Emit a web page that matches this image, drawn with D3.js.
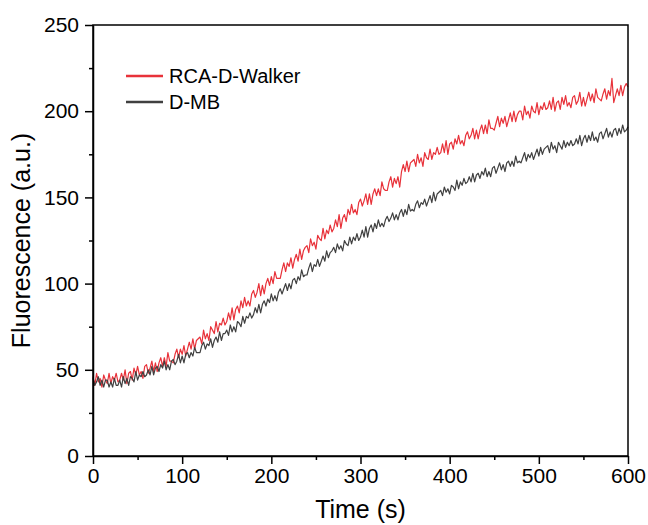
<!DOCTYPE html>
<html lang="en">
<head>
<meta charset="utf-8">
<script src="https://d3js.org/d3.v7.min.js"></script>
<style>
body { margin: 0; background: #fff; font-family: Arial, "Liberation Sans", sans-serif; }
.axis path, .axis line { stroke: #000; stroke-width: 1.5; fill: none; }
.axis text { font-size: 21px; fill: #000; font-family: Arial, "Liberation Sans", sans-serif; }
.series { fill: none; stroke-width: 1.2; stroke-linejoin: round; }
</style>
</head>
<body>
<svg id="chart" width="648" height="525"></svg>
<script>
// time axis: one reading every 2 s, 0..600 (15 readings per row = 30 s)
var tStep = 2;
var seriesNames = ["RCA-D-Walker", "D-MB"];
var seriesColors = ["#e8323a", "#404040"];

var walker = [
  46,41,48,43,45,40,47,44,42,48,42,46,44,48,43,
  44,48,44,50,42,48,49,44,51,47,52,47,49,45,52,
  53,48,51,55,49,54,49,54,57,52,57,52,60,55,55,
  54,59,62,57,62,59,64,58,62,66,62,68,62,67,68,
  69,65,73,68,71,67,75,73,71,78,72,77,76,80,76,
  78,83,79,86,79,85,87,83,90,86,92,87,90,87,94,
  96,92,95,100,93,99,94,100,103,99,104,100,107,103,103,
  103,108,112,107,112,110,115,109,114,117,113,120,114,119,121,
  122,118,126,122,124,120,128,126,125,132,126,131,129,134,130,
  132,137,133,140,132,138,140,136,143,140,146,141,143,140,147,
  149,145,148,152,146,152,146,152,155,151,155,151,159,155,154,
  154,159,162,156,161,158,162,156,165,169,165,171,165,170,171,
  172,168,175,170,173,168,176,173,172,178,172,176,175,179,175,
  176,181,176,183,175,181,182,178,184,181,186,181,183,180,186,
  188,184,186,190,184,189,184,189,192,187,192,187,195,190,190,
  189,193,197,191,196,193,197,191,195,199,194,200,194,198,200,
  200,195,203,198,200,196,203,200,199,205,198,203,201,205,201,
  202,206,201,208,200,205,206,201,208,204,209,203,205,202,208,
  209,204,206,211,203,208,203,207,211,206,210,205,213,208,207,
  206,210,213,207,212,209,219,205,209,213,209,215,209,214,216,
  214
];

var dmb = [
  45,41,43,46,41,44,40,44,44,40,43,40,45,41,41,
  44,40,46,42,45,41,46,45,43,49,44,47,46,49,46,
  47,50,47,52,47,51,52,49,53,51,55,50,53,50,55,
  56,53,55,59,54,58,54,59,60,57,60,58,63,60,60,
  60,64,66,62,65,64,68,63,67,69,66,72,67,71,71,
  73,70,76,72,75,72,78,77,75,81,77,81,80,83,80,
  82,86,83,88,83,88,90,87,91,89,94,90,93,90,95,
  97,94,97,100,96,100,97,102,103,100,104,102,108,104,105,
  105,109,112,107,111,110,114,110,113,116,113,119,115,118,119,
  121,118,123,120,122,119,125,123,122,127,123,127,125,129,125,
  127,131,127,133,127,132,134,130,135,132,137,133,135,133,137,
  139,136,138,141,137,140,137,141,143,139,143,140,146,142,143,
  142,146,148,144,147,146,149,145,148,151,147,153,148,152,153,
  154,151,156,153,155,152,157,156,154,160,155,159,157,161,158,
  159,162,159,164,159,163,164,161,165,163,167,162,165,162,167,
  168,164,167,170,166,169,165,170,171,168,171,168,174,170,171,
  170,173,176,171,175,173,176,172,175,178,174,179,175,178,179,
  180,176,182,178,180,176,182,180,178,183,179,182,180,183,180,
  181,184,181,186,180,184,186,182,186,183,188,183,185,182,187,
  188,184,187,190,185,188,185,189,190,186,190,187,192,188,189,
  191
];

var xTicks = [0, 100, 200, 300, 400, 500, 600];
var yTicks = [0, 50, 100, 150, 200, 250];
var xMinor = [50, 150, 250, 350, 450, 550];
var yMinor = [25, 75, 125, 175, 225];

// plot box
var margin = {top: 25, right: 20, bottom: 69, left: 93},
    width = 648 - margin.left - margin.right,
    height = 525 - margin.top - margin.bottom;

var svg = d3.select("#chart");
var g = svg.append("g")
    .attr("transform", "translate(" + margin.left + "," + margin.top + ")");

var x = d3.scaleLinear().domain([0, 600]).range([0, width]);
var y = d3.scaleLinear().domain([0, 250]).range([height, 0]);

// lines
var line = d3.line()
    .x(function(d, i) { return x(i * tStep); })
    .y(function(d) { return y(d); });

[walker, dmb].forEach(function(s, k) {
  g.append("path")
      .datum(s)
      .attr("class", "series")
      .attr("stroke", seriesColors[k])
      .attr("d", line);
});

// minor ticks first, no labels
g.append("g")
    .attr("class", "axis")
    .attr("transform", "translate(0," + height + ")")
    .call(d3.axisBottom(x).tickValues(xMinor).tickSize(4).tickFormat(""))
    .select(".domain").remove();
g.append("g")
    .attr("class", "axis")
    .call(d3.axisLeft(y).tickValues(yMinor).tickSize(4).tickFormat(""))
    .select(".domain").remove();

// major ticks
g.append("g")
    .attr("class", "axis")
    .attr("transform", "translate(0," + height + ")")
    .call(d3.axisBottom(x).tickValues(xTicks).tickSize(8).tickSizeOuter(0).tickPadding(4));
g.append("g")
    .attr("class", "axis")
    .call(d3.axisLeft(y).tickValues(yTicks).tickSize(8).tickSizeOuter(0).tickPadding(6));

// frame
g.append("rect")
    .attr("width", width)
    .attr("height", height)
    .attr("fill", "none")
    .attr("stroke", "#000")
    .attr("stroke-width", 1.5);

// axis titles
svg.append("text")
    .attr("x", margin.left + width / 2)
    .attr("y", 518)
    .attr("text-anchor", "middle")
    .style("font-size", "25px")
    .text("Time (s)");

svg.append("text")
    .attr("transform", "translate(30," + (margin.top + height / 2) + ") rotate(-90)")
    .attr("text-anchor", "middle")
    .style("font-size", "25px")
    .text("Fluorescence (a.u.)");

// legend
var legend = svg.append("g").attr("transform", "translate(126,76)");
seriesNames.forEach(function(name, k) {
  legend.append("line")
      .attr("x1", 0).attr("x2", 37)
      .attr("y1", k * 26).attr("y2", k * 26)
      .attr("stroke", seriesColors[k])
      .attr("stroke-width", 2.5);
  legend.append("text")
      .attr("x", 43)
      .attr("y", k * 26 + 7)
      .style("font-size", "20px")
      .text(name);
});
</script>
</body>
</html>
